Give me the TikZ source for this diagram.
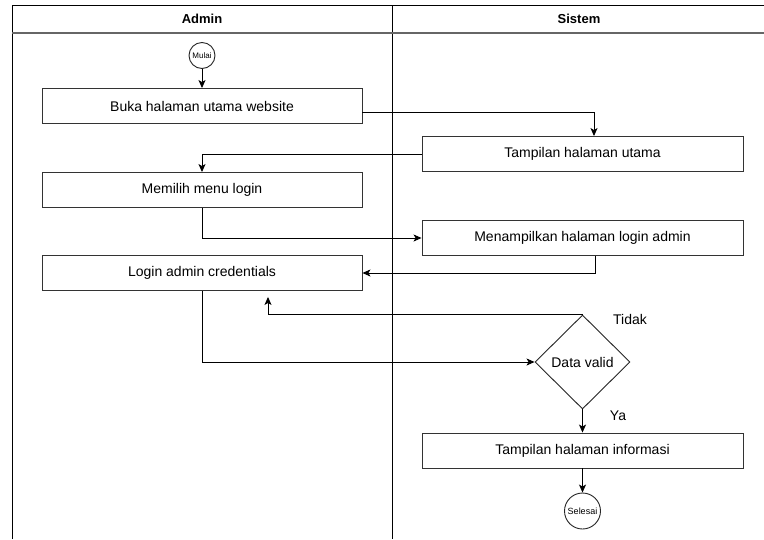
\documentclass[tikz,border=0pt]{standalone}
\usepackage{fontspec}
\setmainfont{Liberation Sans}
\usetikzlibrary{shapes.geometric,arrows.meta,positioning}

\tikzset{
  actbox/.style={draw=black!80, line width=0.9pt, rectangle, minimum width=320pt,
    minimum height=35pt, inner sep=0pt, font=\fontsize{14}{16}\selectfont},
  termcirc/.style={draw=black!85, line width=0.9pt, circle, inner sep=0pt},
  decision/.style={draw=black!85, line width=0.9pt, diamond, minimum width=95pt,
    minimum height=94pt, inner sep=0pt, font=\fontsize{14}{16}\selectfont},
  flow/.style={draw=black, line width=0.9pt, -{Stealth[length=8pt,width=7pt,inset=2pt]}},
  lane/.style={draw=black, line width=0.9pt},
  laneheader/.style={draw=black!60, line width=2pt},
  lanetitle/.style={font=\bfseries\fontsize{13}{15}\selectfont},
  guardlabel/.style={font=\fontsize{14}{16}\selectfont}
}

\begin{document}
\begin{tikzpicture}[x=1pt,y=-1pt]
  \useasboundingbox (0,0) rectangle (764,539);
  \fill[white] (0,0) rectangle (764,539);

  % swimlane frame
  \draw[lane] (12,539) -- (12,5) -- (770,5);
  \draw[lane] (392,5) -- (392,539);
  \draw[laneheader] (12,33) -- (770,33);
  \node[lanetitle] (hadmin) at (202,19) {Admin};
  \node[lanetitle] (hsistem) at (579,19) {Sistem};

  % activities
  \node[termcirc, minimum size=26pt, font=\fontsize{8}{9}\selectfont] (mulai) at (202,55.5) {Mulai};
  \node[actbox] (b1) at (202,106) {Buka halaman utama website};
  \node[actbox, minimum width=321pt] (b2) at (582.5,154) {Tampilan halaman utama};
  \node[actbox] (b3) at (202,190) {Memilih menu login};
  \node[actbox, minimum width=321pt] (b4) at (582.5,238) {Menampilkan halaman login admin};
  \node[actbox] (b5) at (202,273) {Login admin credentials};
  \node[decision] (dv) at (582.5,362) {Data valid};
  \node[actbox, minimum width=321pt] (b6) at (582.5,450.5) {Tampilan halaman informasi};
  \node[termcirc, minimum size=36pt, font=\fontsize{9}{10}\selectfont] (selesai) at (582.5,511) {Selesai};

  \node[guardlabel] (ltidak) at (630,319.5) {Tidak};
  \node[guardlabel] (lya) at (618,416) {Ya};

  % connectors
  \draw[flow] (mulai.south) -- (b1.north);
  \draw[flow] ([yshift=-6pt]b1.east) -| ([xshift=11.5pt]b2.north);
  \draw[flow] (b2.west) -| (b3.north);
  \draw[flow] (b3.south) |- (b4.west);
  \draw[flow] ([xshift=12.5pt]b4.south) |- (b5.east);
  \draw[flow] (b5.south) |- (dv.west);
  \coordinate (backin) at ([xshift=66pt,yshift=-6pt]b5.south);
  \draw[flow] (dv.north) -| (backin);
  \draw[flow] (dv.south) -- (b6.north);
  \draw[flow] (b6.south) -- (selesai.north);
\end{tikzpicture}
\end{document}
